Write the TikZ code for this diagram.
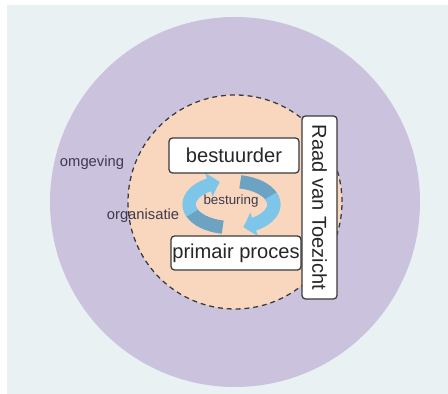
\documentclass[tikz,border=0pt]{standalone}
\usepackage{fontspec}
\setmainfont{Liberation Sans}
\usepackage{tikz}
\usetikzlibrary{positioning,arrows.meta,bending}

\definecolor{achtergrond}{HTML}{E9F1F3}
\definecolor{omgevingkleur}{HTML}{CBC2DD}
\definecolor{orgkleur}{HTML}{F9D7BF}
\definecolor{pijllicht}{HTML}{7EC5EA}
\definecolor{pijldonker}{HTML}{6CA2C2}
\definecolor{randkleur}{HTML}{3A3A3A}
\definecolor{tekstkleur}{HTML}{3D3A4E}

\tikzset{
  blok/.style={draw=randkleur, line width=0.9pt, fill=white, rounded corners=2.5pt,
    inner sep=0pt, text=black!85, font=\fontsize{14.3}{16}\selectfont},
  bijschrift/.style={text=tekstkleur, inner sep=0pt, font=\fontsize{10.5}{12}\selectfont},
  pijlband/.style={line width=9.5pt},
  pijl/.style={pijlband, -{Triangle[width=0.6cm,length=0.28cm,bend]}}
}

\begin{document}
\begin{tikzpicture}
    \useasboundingbox (0,0) rectangle (11.2,9.85);
    \fill[achtergrond] (0.175,0) rectangle (11.2,9.725);

    % Omgeving
    \fill[omgevingkleur] (5.875,4.8) circle (4.625);

    % Organisatie
    \draw[randkleur, line width=0.9pt, dash pattern=on 3.5pt off 2.8pt, fill=orgkleur]
        (5.875,4.8) circle (2.675);

    % Besturing (kringloop)
    \coordinate (m) at (5.7875,4.7375);
    \draw[pijlband, pijldonker] (m) ++(258:1.06 and 0.58)
        arc[start angle=258, end angle=198, x radius=1.06, y radius=0.58];
    \draw[pijl, pijllicht] (m) ++(202:1.06 and 0.58)
        arc[start angle=202, end angle=106, x radius=1.06, y radius=0.58];
    \draw[pijlband, pijldonker] (m) ++(78:1.06 and 0.58)
        arc[start angle=78, end angle=18, x radius=1.06, y radius=0.58];
    \draw[pijl, pijllicht] (m) ++(22:1.06 and 0.58)
        arc[start angle=22, end angle=-74, x radius=1.06, y radius=0.58];

    % Blokken
    \node[blok, minimum width=3.25cm, minimum height=0.875cm] (bestuurder) at (5.85,5.9625) {bestuurder};
    \node[blok, minimum width=3.25cm, minimum height=0.85cm] (primair) at (5.9,3.525) {primair proces};
    \node[blok, rotate=-90, minimum width=4.575cm, minimum height=0.875cm] (raad) at (7.9875,4.6625) {Raad van Toezicht};

    % Bijschriften
    \node[bijschrift] (omgeving) at (2.3,5.775) {omgeving};
    \node[bijschrift] (organisatie) at (3.575,4.45) {organisatie};
    \node[bijschrift, font=\fontsize{9.5}{11}\selectfont] (besturing) at (5.775,4.825) {besturing};
\end{tikzpicture}
\end{document}
